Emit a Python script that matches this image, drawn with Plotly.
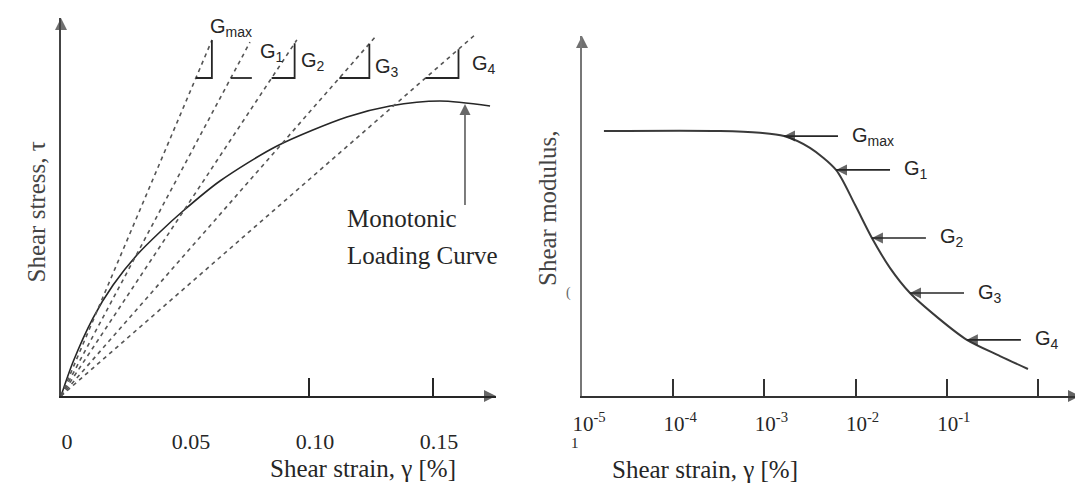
import math
import plotly.graph_objects as go

# page body has an 8px margin: the figure is sized to fit inside the 1083x498 window
OFF = 8
FW, FH = 1083 - OFF, 498 - OFF

# ---------------- data: left panel (stress-strain) ----------------
mono_strain = [0, 0.00484, 0.0129, 0.0210, 0.0306, 0.0399, 0.0492, 0.0641,
               0.0871, 0.1153, 0.1327, 0.1528, 0.1730]
mono_stress = [0, 0.0904, 0.2074, 0.2952, 0.3750, 0.4362, 0.4920, 0.5718,
               0.6649, 0.7420, 0.7713, 0.7846, 0.7713]

secant_names = ["G<sub>max</sub>", "G<sub>1</sub>", "G<sub>2</sub>", "G<sub>3</sub>", "G<sub>4</sub>"]
secant_end_strain = [0.0609, 0.0762, 0.0951, 0.1274, 0.1677]
secant_end_stress = [0.947, 0.941, 0.947, 0.960, 0.965]
left_xticks = [0, 0.05, 0.10, 0.15]
left_xticktext = ["0", "0.05", "0.10", "0.15"]
left_tickmarks = [0.10, 0.15]
loading_arrow_strain = 0.1629

# ---------------- data: right panel (modulus degradation) ----------------
mod_strain = [1.74e-5, 3.26e-4, 8.95e-4, 1.64e-3, 3.16e-3, 6.10e-3, 9.85e-3, 1.51e-2,
              2.38e-2, 3.95e-2, 8.01e-2, 0.166, 0.383, 0.776]
mod_G = [0.736, 0.736, 0.731, 0.722, 0.689, 0.628, 0.531, 0.439,
         0.356, 0.286, 0.217, 0.156, 0.111, 0.075]
marker_index = [3, 5, 7, 9, 11]
right_xticks = [1e-5, 1e-4, 1e-3, 1e-2, 1e-1, 1]
right_xticktext = ["10<sup>-5</sup>", "10<sup>-4</sup>", "10<sup>-3</sup>",
                   "10<sup>-2</sup>", "10<sup>-1</sup>", ""]

# ---------------- pixel layout helpers (window pixel coordinates) ----------------
def px(xp):
    return (xp - OFF) / FW

def py(yp):
    return 1 - (yp - OFF) / FH

L_X0, L_XEND, AX_Y, L_YTOP = 61, 496, 396, 18
L_PX_PER_UNIT = 124 / 0.05
L_PY_PER_UNIT = 376
R_X0, R_XEND, R_YTOP = 582, 1080, 36
R_PX_PER_DEC = 91.2
R_PY_PER_UNIT = 360

left_xrange = [0, (L_XEND - L_X0) / L_PX_PER_UNIT]
left_yrange = [0, (AX_Y - L_YTOP) / L_PY_PER_UNIT]
right_xrange = [-5, -5 + (R_XEND - R_X0) / R_PX_PER_DEC]
right_yrange = [0, (AX_Y - R_YTOP) / R_PY_PER_UNIT]

serif = "Liberation Serif, Times New Roman, serif"
sans = "Liberation Sans, Arial, sans-serif"
dark = "#262626"

fig = go.Figure()

def arrow_trace(xs, ys, symbol, size, color, width, xa, ya, line=True):
    return go.Scatter(
        x=xs, y=ys, mode="lines+markers" if line else "markers",
        line=dict(color=color, width=width),
        marker=dict(symbol=symbol, size=[0] * (len(xs) - 1) + [size], color=color,
                    line=dict(width=0)),
        cliponaxis=False, xaxis=xa, yaxis=ya, hoverinfo="skip")

# monotonic loading curve
fig.add_trace(go.Scatter(x=mono_strain, y=mono_stress, mode="lines",
                         line=dict(color=dark, width=1.6, shape="spline", smoothing=0.8),
                         xaxis="x", yaxis="y", hoverinfo="skip"))

# secant lines and slope triangles
tri_level = (AX_Y - 78) / L_PY_PER_UNIT
tri_w_px = [16, 21, 23, 30, 33]
tri_rise = [True, False, True, True, True]
for i, (gx, gy) in enumerate(zip(secant_end_strain, secant_end_stress)):
    fig.add_trace(go.Scatter(x=[0, gx], y=[0, gy], mode="lines",
                             line=dict(color="#555555", width=1.6, dash="4px,4px"),
                             xaxis="x", yaxis="y", hoverinfo="skip"))
    slope = gy / gx
    x0 = tri_level / slope
    x1 = x0 + tri_w_px[i] / L_PX_PER_UNIT
    tx = [x0, x1]
    ty = [tri_level, tri_level]
    if tri_rise[i]:
        tx.append(x1)
        ty.append(slope * x1)
    fig.add_trace(go.Scatter(x=tx, y=ty, mode="lines",
                             line=dict(color=dark, width=1.8),
                             xaxis="x", yaxis="y", hoverinfo="skip"))

# vertical arrow to the monotonic curve
arrow_top = (AX_Y - 104) / L_PY_PER_UNIT
arrow_bottom = (AX_Y - 205) / L_PY_PER_UNIT
fig.add_trace(arrow_trace([loading_arrow_strain, loading_arrow_strain], [arrow_bottom, arrow_top],
                          "arrow-up", 11, dark, 1.2, "x", "y"))

# left axis arrowheads
fig.add_trace(arrow_trace([left_xrange[1]], [0], "arrow-right", 12, dark, 0, "x", "y", line=False))
fig.add_trace(arrow_trace([0], [left_yrange[1]], "arrow-up", 12, "#333", 0, "x", "y", line=False))

# right curve
fig.add_trace(go.Scatter(x=mod_strain, y=mod_G, mode="lines",
                         line=dict(color="#3a3a3a", width=2, shape="spline", smoothing=0.8),
                         xaxis="x2", yaxis="y2", hoverinfo="skip"))

# right arrows pointing at the curve
tail_dec = 54 / R_PX_PER_DEC
for idx in marker_index:
    s = mod_strain[idx]
    g = mod_G[idx]
    fig.add_trace(arrow_trace([s * 10 ** tail_dec, s], [g, g], "arrow-left", 11, dark, 1.6,
                              "x2", "y2"))

# right axis arrowheads
fig.add_trace(arrow_trace([10 ** right_xrange[1]], [0], "arrow-right", 12, "#222", 0, "x2", "y2",
                          line=False))
fig.add_trace(arrow_trace([1e-5], [right_yrange[1]], "arrow-up", 12, "#333", 0, "x2", "y2",
                          line=False))

# invisible trace on tick-mark overlay axis
fig.add_trace(go.Scatter(x=[None], y=[None], xaxis="x3", yaxis="y", showlegend=False))

ann = []
ann.append(dict(x=px(345), y=py(218), xref="paper", yref="paper", xanchor="left", yanchor="middle",
                text="Monotonic", showarrow=False, font=dict(family=serif, size=25, color=dark)))
ann.append(dict(x=px(345), y=py(256), xref="paper", yref="paper", xanchor="left", yanchor="middle",
                text="Loading Curve", showarrow=False, font=dict(family=serif, size=25, color=dark)))

# secant labels (left)
left_label_pos = [(208, 27), (258, 53), (299, 62), (373, 67), (470, 65)]
for name, (lx, ly) in zip(secant_names, left_label_pos):
    ann.append(dict(x=px(lx), y=py(ly), xref="paper", yref="paper", xanchor="left", yanchor="middle",
                    text=name, showarrow=False, font=dict(family=sans, size=20, color=dark)))

# labels (right)
for name, idx in zip(secant_names, marker_index):
    ann.append(dict(x=math.log10(mod_strain[idx]), y=mod_G[idx], xref="x2", yref="y2",
                    xshift=66, xanchor="left", yanchor="middle",
                    text=name, showarrow=False, font=dict(family=sans, size=20, color=dark)))

# axis titles
ann.append(dict(x=px(268), y=py(484), xref="paper", yref="paper", text="Shear strain, γ [%]",
                showarrow=False, font=dict(family=serif, size=25, color=dark)))
ann.append(dict(x=px(800), y=py(485), xref="paper", yref="paper", text="Shear strain, γ [%]",
                showarrow=False, font=dict(family=serif, size=25, color=dark)))
ann.append(dict(x=px(20), y=py(212), xref="paper", yref="paper", text="Shear stress, τ",
                textangle=-90, showarrow=False, font=dict(family=serif, size=25, color="#444")))
ann.append(dict(x=px(547), y=py(208), xref="paper", yref="paper", text="Shear modulus,",
                textangle=-90, showarrow=False, font=dict(family=serif, size=25, color="#444")))
ann.append(dict(x=px(568), y=py(293), xref="paper", yref="paper", text="(",
                showarrow=False, font=dict(family=serif, size=14, color="#666")))
ann.append(dict(x=px(575), y=py(453), xref="paper", yref="paper", text="1",
                showarrow=False, font=dict(family=serif, size=15, color=dark)))

fig.update_layout(
    width=FW, height=FH, margin=dict(l=0, r=0, t=0, b=0, pad=0),
    plot_bgcolor="white", paper_bgcolor="white", showlegend=False,
    annotations=ann,
    xaxis=dict(domain=[px(L_X0), px(L_XEND)], range=left_xrange, anchor="y", automargin=False,
               tickvals=left_xticks, ticktext=left_xticktext, ticks="",
               showgrid=False, zeroline=False, showline=True, linewidth=2.4, linecolor=dark,
               ticklabelstandoff=24, ticklabelshift=6,
               tickfont=dict(family=serif, size=22, color=dark)),
    xaxis3=dict(overlaying="x", anchor="y", range=left_xrange, automargin=False,
                tickvals=left_tickmarks, ticks="inside", ticklen=18, tickwidth=2,
                tickcolor=dark, showticklabels=False, showgrid=False, zeroline=False,
                showline=False),
    yaxis=dict(domain=[py(AX_Y), py(L_YTOP)], range=left_yrange, anchor="x", automargin=False,
               showticklabels=False, ticks="", showgrid=False, zeroline=False,
               showline=True, linewidth=1.8, linecolor="#444"),
    xaxis2=dict(type="log", domain=[px(R_X0), px(R_XEND)], range=right_xrange, anchor="y2",
                automargin=False,
                tickvals=right_xticks, ticktext=right_xticktext, ticks="inside",
                ticklen=17, tickwidth=2, tickcolor="#333",
                showgrid=False, zeroline=False, showline=True, linewidth=2.2, linecolor="#333",
                ticklabelstandoff=8, ticklabelshift=7,
                tickfont=dict(family=serif, size=21, color=dark)),
    yaxis2=dict(domain=[py(AX_Y), py(R_YTOP)], range=right_yrange, anchor="x2", automargin=False,
                showticklabels=False, ticks="", showgrid=False, zeroline=False,
                showline=True, linewidth=1.6, linecolor="#777"),
)

fig.write_html("out.html")
